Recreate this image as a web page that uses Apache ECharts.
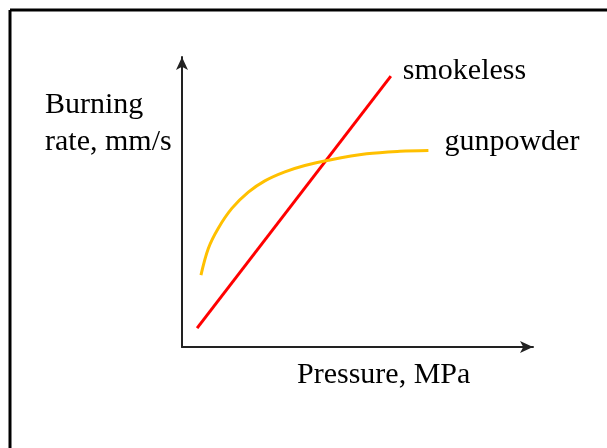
<!DOCTYPE html>
<html>
<head>
<meta charset="utf-8">
<script src="https://cdn.jsdelivr.net/npm/echarts@6/dist/echarts.min.js"></script>
<style>html,body{margin:0;padding:0;background:#fff;}#c{width:607px;height:448px;}</style>
</head>
<body>
<div id="c"></div>
<script>
// Data (arbitrary units, 0-100 on both axes)
const smokelessX = [4.3, 59.5];
const smokelessY = [6.5, 93.4];
const gunpowderX = [5.4, 7.5, 10.3, 14.2, 18.9, 23.6, 29.3, 35.0, 41.7, 52.6, 62.1, 70.2];
const gunpowderY = [24.8, 34.0, 40.9, 47.8, 53.4, 57.3, 60.4, 62.6, 64.4, 66.6, 67.5, 67.8];
const seriesNames = ['smokeless', 'gunpowder'];
const xAxisTitle = 'Pressure, MPa';
const yAxisTitle = ['Burning', 'rate, mm/s'];

const FONT = '"Liberation Serif", "Times New Roman", serif';
const chart = echarts.init(document.getElementById('c'), null, {renderer: 'canvas'});
const zip = (xs, ys) => xs.map((x, i) => [x, ys[i]]);

chart.setOption({
  animation: false,
  backgroundColor: '#fff',
  grid: {left: 182, top: 57, right: 74, bottom: 101, containLabel: false},
  xAxis: {
    type: 'value', min: 0, max: 100,
    axisLine: {show: true, lineStyle: {color: '#222', width: 2}, symbol: ['none', 'arrow'], symbolSize: [9, 13]},
    axisTick: {show: false}, axisLabel: {show: false}, splitLine: {show: false}
  },
  yAxis: {
    type: 'value', min: 0, max: 100,
    axisLine: {show: true, lineStyle: {color: '#222', width: 2}, symbol: ['none', 'arrow'], symbolSize: [9, 13]},
    axisTick: {show: false}, axisLabel: {show: false}, splitLine: {show: false}
  },
  series: [
    {
      name: seriesNames[0], type: 'line', data: zip(smokelessX, smokelessY),
      showSymbol: false, lineStyle: {color: '#ff0000', width: 3},
      endLabel: {show: true, formatter: '{a}', fontFamily: FONT, fontSize: 30, color: '#000', offset: [4, -5], align: 'left'}
    },
    {
      name: seriesNames[1], type: 'line', data: zip(gunpowderX, gunpowderY), smooth: 0.35,
      showSymbol: false, lineStyle: {color: '#ffc000', width: 3},
      endLabel: {show: true, formatter: '{a}', fontFamily: FONT, fontSize: 30, color: '#000', offset: [8, -8], align: 'left'}
    }
  ],
  graphic: [
    {type: 'line', shape: {x1: 10, y1: 10, x2: 607, y2: 10}, style: {stroke: '#000', lineWidth: 3}},
    {type: 'line', shape: {x1: 10, y1: 10, x2: 10, y2: 448}, style: {stroke: '#000', lineWidth: 3}},
    {type: 'text', left: 45, top: 90, style: {text: yAxisTitle[0], font: '30px ' + FONT, fill: '#000'}},
    {type: 'text', left: 45, top: 127, style: {text: yAxisTitle[1], font: '30px ' + FONT, fill: '#000'}},
    {type: 'text', left: 297, top: 360, style: {text: xAxisTitle, font: '30px ' + FONT, fill: '#000'}}
  ]
});
</script>
</body>
</html>
